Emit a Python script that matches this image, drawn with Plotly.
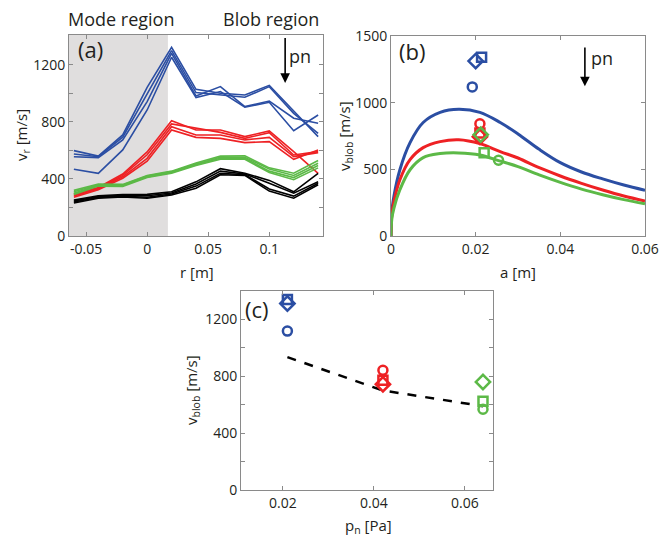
import plotly.graph_objects as go

# ---------------- data ----------------
r_pos = [-0.06, -0.04, -0.02, 0.0, 0.02, 0.04, 0.06, 0.08, 0.10, 0.12, 0.14]

vr_blue = [
    [599, 561, 709, 1043, 1324, 1029, 1001, 989, 1057, 880, 697],
    [575, 556, 693, 1001, 1300, 1006, 989, 973, 1048, 860, 720],
    [556, 550, 674, 943, 1281, 982, 1048, 908, 947, 826, 791],
    [468, 440, 604, 884, 1254, 971, 1013, 903, 938, 739, 849],
]
vr_red = [
    [295, 340, 435, 590, 809, 744, 744, 697, 737, 592, 440],
    [288, 335, 425, 570, 786, 756, 727, 685, 725, 568, 592],
    [280, 330, 415, 545, 767, 709, 709, 674, 692, 557, 585],
    [272, 325, 405, 525, 744, 692, 685, 655, 662, 538, 603],
]
vr_green = [
    [320, 365, 362, 425, 455, 512, 560, 562, 478, 440, 530],
    [310, 360, 357, 420, 450, 505, 552, 552, 470, 425, 510],
    [300, 355, 352, 415, 445, 500, 545, 545, 455, 410, 495],
    [292, 350, 347, 410, 440, 495, 538, 538, 445, 395, 478],
]
vr_black = [
    [252, 282, 290, 292, 310, 380, 472, 440, 390, 310, 440],
    [245, 276, 284, 282, 302, 365, 455, 435, 370, 300, 380],
    [238, 270, 279, 272, 295, 350, 440, 430, 330, 280, 370],
    [232, 265, 274, 265, 288, 335, 430, 425, 315, 265, 360],
]

# panel (b) model curves
a_curve = [0, 0.0002, 0.0007, 0.0021, 0.0045, 0.0076, 0.0116, 0.016, 0.021, 0.0258,
           0.03, 0.035, 0.04, 0.045, 0.05, 0.055, 0.06]
v_blue = [0, 180, 300, 497, 700, 851, 927, 950, 927, 851, 765, 650, 550, 480, 428, 382, 343]
v_red = [0, 160, 260, 422, 573, 663, 708, 722, 693, 633, 585, 512, 450, 395, 345, 300, 263]
v_green = [0, 130, 210, 347, 497, 588, 618, 623, 608, 562, 520, 458, 402, 352, 310, 273, 241]

# measured blob velocities: (a [m], v [m/s]) per marker
blob_a = {"blue": [0.0192, 0.0214, 0.0200], "red": [0.0210, 0.0210, 0.0210], "green": [0.0254, 0.0220, 0.0212]}
blob_v = {"blue": [1118, 1340, 1312], "red": [842, 772, 744], "green": [568, 624, 760]}
symbols = ["circle-open", "square-open", "diamond-open"]

# panel (c)
pn_vals = {"blue": 0.021, "red": 0.042, "green": 0.064}
pn_line = [0.021, 0.042, 0.064]
v_line = [935, 700, 590]

colors = {"blue": "#2b4ea3", "red": "#ee2124", "green": "#5cb947", "black": "#000000"}

W, H = 660, 537
def px(x):
    return x / W
def py(y):
    return 1 - y / H

FONT = "Open Sans"
fig = go.Figure()

# ---- panel (a)
for name, group in [("blue", vr_blue), ("red", vr_red), ("green", vr_green), ("black", vr_black)]:
    for ys in group:
        fig.add_trace(go.Scatter(x=r_pos, y=ys, mode="lines", xaxis="x", yaxis="y",
                                 line=dict(color=colors[name], width=1.6), showlegend=False,
                                 hoverinfo="skip"))

# ---- panel (b)
for v_, name in [(v_blue, "blue"), (v_red, "red"), (v_green, "green")]:
    fig.add_trace(go.Scatter(x=a_curve, y=v_, mode="lines", xaxis="x2", yaxis="y2",
                             line=dict(color=colors[name], width=3, shape="spline", smoothing=1.0),
                             showlegend=False))
for name in ["blue", "red", "green"]:
    for i, sym in enumerate(symbols):
        size = 11 if "diamond" in sym else 9
        fig.add_trace(go.Scatter(x=[blob_a[name][i]], y=[blob_v[name][i]], mode="markers",
                                 xaxis="x2", yaxis="y2", showlegend=False,
                                 marker=dict(symbol=sym, size=size, color=colors[name],
                                             line=dict(width=2.5, color=colors[name]))))

# ---- panel (c)
fig.add_trace(go.Scatter(x=pn_line, y=v_line, mode="lines", xaxis="x3", yaxis="y3",
                         line=dict(color="black", width=2.5, dash="dash"), showlegend=False))
for name in ["blue", "red", "green"]:
    for i, sym in enumerate(symbols):
        size = 11 if "diamond" in sym else 9
        fig.add_trace(go.Scatter(x=[pn_vals[name]], y=[blob_v[name][i]], mode="markers",
                                 xaxis="x3", yaxis="y3", showlegend=False,
                                 marker=dict(symbol=sym, size=size, color=colors[name],
                                             line=dict(width=2.5, color=colors[name]))))

axis_common = dict(showline=True, linecolor="#8a8a8a", linewidth=1, mirror="ticks",
                   ticks="inside", ticklen=4, tickcolor="#8a8a8a", showgrid=False,
                   zeroline=False, tickfont=dict(family=FONT, size=14, color="#231f20"))

fig.update_layout(
    width=W, height=H, margin=dict(l=0, r=0, t=0, b=0, autoexpand=False),
    paper_bgcolor="white", plot_bgcolor="white",
    font=dict(family=FONT, color="#231f20"),
    xaxis=dict(domain=[px(69), px(323)], range=[-0.064, 0.144], anchor="y",
               tickvals=[-0.05, 0, 0.05, 0.1], ticktext=["-0.05", "0", "0.05", "0.1"], **axis_common),
    yaxis=dict(domain=[py(236), py(35)], range=[0, 1410], anchor="x",
               tickvals=[0, 400, 800, 1200],
               minor=dict(tickvals=[200, 600, 1000], ticks="inside", ticklen=4, tickcolor="#8a8a8a"),
               **axis_common),
    xaxis2=dict(domain=[px(391), px(645)], range=[0, 0.06], anchor="y2",
                tickvals=[0, 0.02, 0.04, 0.06], ticktext=["0", "0.02", "0.04", "0.06"], **axis_common),
    yaxis2=dict(domain=[py(236), py(36)], range=[0, 1500], anchor="x2",
                tickvals=[0, 500, 1000, 1500], **axis_common),
    xaxis3=dict(domain=[px(241), px(493)], range=[0.0108, 0.0662], anchor="y3",
                tickvals=[0.02, 0.04, 0.06], ticktext=["0.02", "0.04", "0.06"], **axis_common),
    yaxis3=dict(domain=[py(490), py(291)], range=[0, 1400], anchor="x3",
                tickvals=[0, 400, 800, 1200],
                minor=dict(tickvals=[200, 600, 1000], ticks="inside", ticklen=4, tickcolor="#8a8a8a"),
                **axis_common),
)

fig.add_shape(type="rect", xref="x", yref="y domain", x0=-0.064, x1=0.017, y0=0, y1=1,
              fillcolor="#e0dede", line=dict(width=0), layer="below")

ann = []
def text(x, y, s, size=15, **kw):
    ann.append(dict(x=px(x), y=py(y), xref="paper", yref="paper", text=s, showarrow=False,
                    xanchor="center", yanchor="middle",
                    font=dict(family=FONT, size=size, color="#231f20"), **kw))

text(121, 19, "Mode region", size=18)
text(271, 19, "Blob region", size=18)
text(90, 49, "(a)", size=22)
text(412, 51, "(b)", size=22)
text(257, 309, "(c)", size=22)
text(197, 272, "r [m]")
text(518, 272, "a [m]")
text(368, 526, "p<sub>n</sub> [Pa]")
text(22, 135, "v<sub>r</sub> [m/s]", textangle=-90)
text(345, 136, "v<sub>blob</sub> [m/s]", textangle=-90)
text(192, 390, "v<sub>blob</sub> [m/s]", textangle=-90)
text(300, 56, "pn", size=18)
text(602, 58, "pn", size=18)

# pn arrows
ann.append(dict(x=0.113, y=1074, xref="x", yref="y", ax=0.113, ay=1400, axref="x", ayref="y",
                showarrow=True, arrowhead=2, arrowsize=1.2, arrowwidth=1.6, arrowcolor="black", text=""))
ann.append(dict(x=0.0458, y=1123, xref="x2", yref="y2", ax=0.0458, ay=1425, axref="x2", ayref="y2",
                showarrow=True, arrowhead=2, arrowsize=1.2, arrowwidth=1.6, arrowcolor="black", text=""))
fig.update_layout(annotations=ann)

fig.write_html("out.html", config={"displayModeBar": False},
               post_script="document.body.style.margin='0px';")
